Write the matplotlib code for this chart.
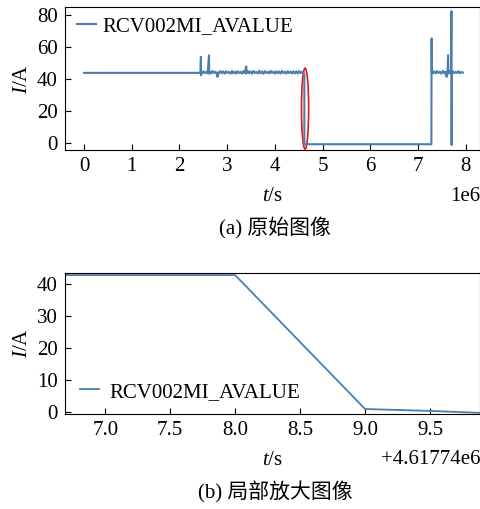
import matplotlib
matplotlib.use("Agg")
import matplotlib.pyplot as plt
from matplotlib.patches import Ellipse

plt.rcParams['font.family'] = ['Liberation Serif', 'Noto Sans CJK SC']
plt.rcParams['mathtext.fontset'] = 'custom'
plt.rcParams['mathtext.it'] = 'Liberation Serif:italic'
plt.rcParams['mathtext.rm'] = 'Liberation Serif'
plt.rcParams['font.size'] = 15

series_name = "RCV002MI_AVALUE"
line_color = "#4a7eae"

# (a) full record, time in units of 1e6 s
t_full = [0.00, 2.44, 2.450, 2.452, 2.455, 2.47, 2.50, 2.53, 2.56, 2.59,
          2.620, 2.622, 2.63, 2.66, 2.69, 2.72, 2.75, 2.78, 2.800, 2.805,
          2.83, 2.86, 2.89, 2.92, 2.95, 2.98, 3.01, 3.04, 3.07, 3.10,
          3.13, 3.16, 3.19, 3.22, 3.25, 3.28, 3.31, 3.34, 3.37, 3.400,
          3.405, 3.43, 3.46, 3.49, 3.52, 3.55, 3.58, 3.61, 3.64, 3.67,
          3.70, 3.73, 3.76, 3.79, 3.82, 3.85, 3.88, 3.91, 3.94, 3.97,
          4.00, 4.03, 4.06, 4.09, 4.12, 4.15, 4.18, 4.21, 4.24, 4.27,
          4.30, 4.33, 4.36, 4.39, 4.42, 4.45, 4.48, 4.51, 4.54, 4.57,
          4.60, 4.6177, 4.6178, 5.00, 6.00, 7.00, 7.280, 7.285, 7.290, 7.295,
          7.31, 7.34, 7.37, 7.40, 7.43, 7.46, 7.49, 7.52, 7.55, 7.58,
          7.600, 7.605, 7.62, 7.630, 7.635, 7.66, 7.69, 7.700, 7.705, 7.710,
          7.715, 7.73, 7.76, 7.79, 7.82, 7.85, 7.88, 7.91, 7.94]
i_full = [44.0, 44.0, 54.0, 42.5, 44.5, 43.5, 45.0, 43.8, 44.6, 43.7,
          55.0, 43.5, 44.8, 43.6, 45.2, 43.9, 44.7, 43.5, 41.5, 44.5,
          43.6, 45.1, 43.8, 44.9, 43.5, 45.0, 43.9, 44.6, 43.5, 45.2,
          43.7, 44.8, 43.6, 45.0, 43.9, 44.7, 43.5, 45.1, 43.8, 48.0,
          43.6, 45.3, 43.8, 44.9, 43.5, 45.2, 43.9, 44.6, 43.6, 45.4,
          43.7, 44.9, 43.5, 45.1, 43.8, 44.7, 43.6, 45.2, 43.9, 44.8,
          43.5, 45.0, 43.7, 44.9, 43.6, 45.2, 43.8, 44.7, 43.5, 45.1,
          43.9, 44.8, 43.6, 45.0, 43.7, 44.9, 43.6, 45.1, 43.8, 44.7,
          44.0, 43.0, -0.5, -0.5, -0.5, -0.5, -0.5, 65.5, 44.0, 45.0,
          43.8, 44.9, 43.6, 45.1, 43.9, 44.7, 43.5, 45.2, 43.8, 44.8,
          41.5, 44.6, 43.8, 55.0, 43.5, 44.9, 43.6, 82.5, -1.0, 44.0,
          43.7, 45.0, 43.8, 44.6, 43.9, 45.1, 43.7, 44.5, 44.2]

# (b) zoom around the drop, absolute time in s
t_zoom = [4617746.6, 4617748.0, 4617749.0, 4617749.5, 4617749.95]
i_zoom = [42.8, 42.8, 1.0, 0.4, -0.3]
zoom_offset = 4617740.0
zoom_ticks = [7.0, 7.5, 8.0, 8.5, 9.0, 9.5]

# highlight ellipse (data coords of panel a)
ell_center = (4.633e6, 21.7)
ell_size = (0.15e6, 50.5)

fig = plt.figure(figsize=(4.81, 5.09), dpi=100)

ax1 = fig.add_axes([0.135, 0.705, 0.863, 0.281])
ax1.plot([t * 1e6 for t in t_full], i_full, color=line_color, lw=1.5, label=series_name)
ax1.add_patch(Ellipse(ell_center, ell_size[0], ell_size[1], fill=False,
                      edgecolor='#e8141c', lw=1.2))
ax1.set_xlim(-0.4e6, 8.3e6)
ax1.set_ylim(-4.2, 85)
ax1.set_xticks([i * 1e6 for i in range(9)])
ax1.set_yticks([0, 20, 40, 60, 80])
ax1.tick_params(direction='in', length=4, pad=5)
ax1.xaxis.OFFSETTEXTPAD = 7.5
ax1.set_xlabel(r'$\mathit{t}$/s', labelpad=8)
ax1.set_ylabel(r'$\mathit{I}$/A', labelpad=4)
ax1.legend(loc='upper left', frameon=False, handlelength=0.9, handletextpad=0.3,
           borderaxespad=0.0, borderpad=0.4, bbox_to_anchor=(0.01, 0.99))
fig.text(0.572, 0.552, '(a) 原始图像', ha='center', va='center', fontsize=15)

ax2 = fig.add_axes([0.135, 0.187, 0.863, 0.277])
ax2.plot(t_zoom, i_zoom, color=line_color, lw=1.3, label=series_name)
ax2.set_xlim(4617746.69, 4617749.885)
ax2.set_ylim(-0.5, 43.5)
ax2.set_xticks([zoom_offset + v for v in zoom_ticks])
ax2.set_yticks([0, 10, 20, 30, 40])
ax2.tick_params(direction='in', length=4, pad=5)
ax2.xaxis.OFFSETTEXTPAD = 7.5
ax2.set_xlabel(r'$\mathit{t}$/s', labelpad=8)
ax2.set_ylabel(r'$\mathit{I}$/A', labelpad=4)
ax2.legend(loc='center left', frameon=False, handlelength=0.9, handletextpad=0.5,
           borderaxespad=0.0, borderpad=0.4, bbox_to_anchor=(0.016, 0.156))
fig.text(0.572, 0.032, '(b) 局部放大图像', ha='center', va='center', fontsize=15)

fig.savefig('out.png', dpi=100)
